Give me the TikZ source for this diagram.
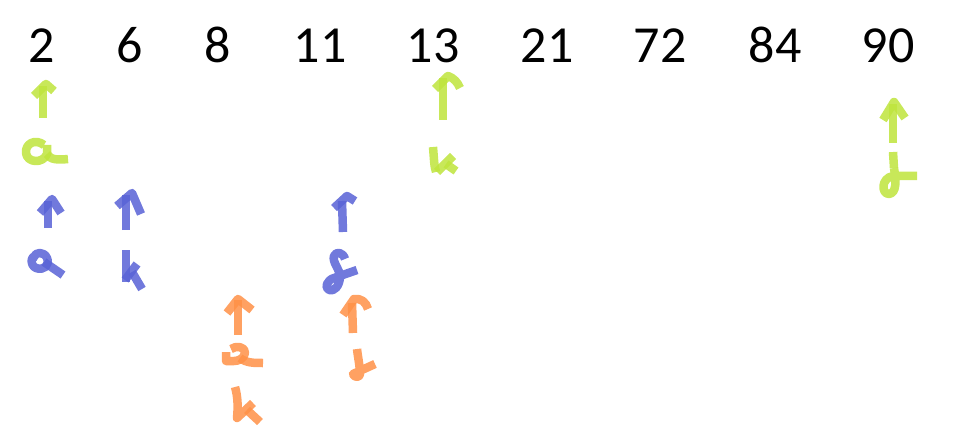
\documentclass[tikz,border=0pt]{standalone}
\usepackage{fontspec}
\setmainfont{Carlito}
\begin{document}
\begin{tikzpicture}[x=1pt,y=-1pt,
  num/.style={anchor=base,inner sep=0pt,font=\fontsize{52}{60}\selectfont},
  pen/.style={line width=8.5pt,line cap=butt,line join=round,opacity=0.85},
  gpen/.style={pen,draw={rgb,255:red,190;green,228;blue,60}},
  bpen/.style={pen,draw={rgb,255:red,88;green,98;blue,214}},
  open/.style={pen,draw={rgb,255:red,255;green,144;blue,70}}]
\useasboundingbox (0,0) rectangle (967,441);
% numbers
\foreach \n/\x in {2/42,6/130,8/218,11/320,13/433,21/547,72/660,84/775,90/888}
  \node[num] (n\n) at (\x,63) {\n};
% green under 2
\draw[gpen] (43,118) -- (43,86);
\draw[gpen] (34,96) -- (46,84) -- (54,91);
\draw[gpen] (44,145) .. controls (35,138) and (25,144) .. (26,153) .. controls (27,163) and (43,164) .. (47,154) -- (47,145);
\draw[gpen] (47,154) .. controls (50,160) and (58,160) .. (68,159);
% blue under 2
\draw[bpen] (48,228) -- (48,201);
\draw[bpen] (40,213) -- (52,199) -- (61,213);
\draw[bpen] (38,257) .. controls (31,253) and (29,265) .. (36,268) .. controls (44,271) and (50,265) .. (47,258) .. controls (44,251) and (35,252) .. (34,257);
\draw[bpen] (44,262) -- (63,275);
% blue under 6
\draw[bpen] (126,230) -- (126,195);
\draw[bpen] (117,206) -- (132,193) -- (141,214);
\draw[bpen] (126,250) -- (126,282);
\draw[bpen] (125,280) -- (137,264);
\draw[bpen] (132,272) -- (142,289);
% blue under 11
\draw[bpen] (343,232) -- (342,201);
\draw[bpen] (334,208) -- (347,196) -- (355,201);
\draw[bpen] (345,259) .. controls (343,252) and (336,251) .. (334,256) .. controls (332,262) and (340,270) .. (340,276) .. controls (340,286) and (334,292) .. (329,290) .. controls (324,288) and (327,280) .. (334,278) -- (357,270);
% green under 13
\draw[gpen] (443,120) -- (443,78);
\draw[gpen] (435,89) -- (448,76) .. controls (454,78) and (458,83) .. (460,88);
\draw[gpen] (433,147) .. controls (434,158) and (434,166) .. (436,172);
\draw[gpen] (437,172) -- (453,156);
\draw[gpen] (446,164) -- (456,171);
% green under 90
\draw[gpen] (893,143) -- (893,104);
\draw[gpen] (883,120) -- (894,102) -- (905,118);
\draw[gpen] (893,152) -- (894,168);
\draw[gpen] (894,168) .. controls (896,180) and (897,193) .. (889,194) .. controls (881,194) and (881,178) .. (893,176) -- (917,176);
% orange under 8
\draw[open] (238,335) -- (238,300);
\draw[open] (227,313) -- (238,299) -- (252,310);
\draw[open] (231,349) .. controls (236,345) and (246,347) .. (245,353) .. controls (244,359) and (238,361) .. (234,361) -- (226,361) -- (226,352);
\draw[open] (240,358) .. controls (246,363) and (254,363) .. (263,363);
\draw[open] (235,387) .. controls (238,397) and (238,408) .. (237,418) -- (253,403);
\draw[open] (247,410) -- (260,422);
% orange under 11
\draw[open] (353,333) -- (352,303);
\draw[open] (343,315) -- (354,299) .. controls (361,298) and (366,302) .. (368,309);
\draw[open] (357,349) .. controls (358,358) and (360,366) .. (360,375) .. controls (358,378) and (354,377) .. (353,374) -- (375,364);
\end{tikzpicture}
\end{document}
